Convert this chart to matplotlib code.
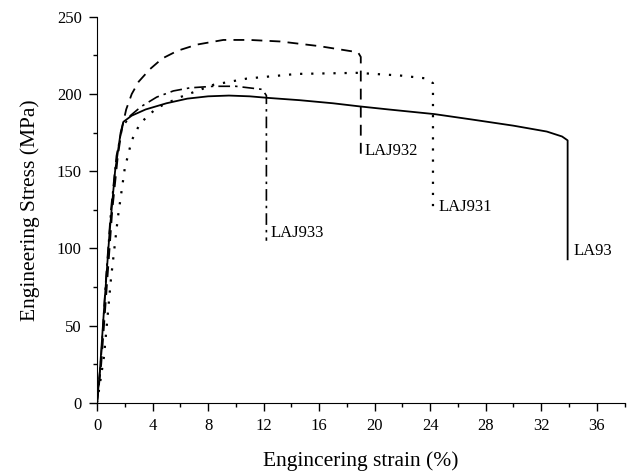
import matplotlib
matplotlib.use('Agg')
import matplotlib.pyplot as plt
from matplotlib.ticker import MultipleLocator

plt.rcParams['font.family'] = ['Liberation Serif', 'DejaVu Serif']

# LA93 (solid)
la93_x = [0, 0.2, 0.5, 0.9, 1.3, 1.7, 1.9, 2.5, 3.5, 5.0, 6.5, 8.0, 9.5, 11.0, 12.3, 14.6,
          17.0, 18.9, 21.0, 24.3, 27.0, 30.0, 32.4, 33.5, 33.9, 33.9]
la93_y = [0, 20, 60, 110, 150, 175, 182, 186, 190, 194, 197, 198.5, 199, 198.5, 197.5, 196,
          194, 192, 190, 187, 183.5, 179.5, 175.7, 172.5, 170, 93]

# LAJ932 (dashed)
laj932_x = [0, 0.3, 0.7, 1.1, 1.5, 1.8, 2.1, 2.5, 3.0, 3.8, 4.7, 5.8, 7.2, 9.1, 11.0, 13.2,
            16.0, 18.8, 19.0, 19.0]
laj932_y = [0, 25, 75, 125, 160, 178, 190, 200, 208, 216, 223, 228, 232, 235, 235, 234,
            231, 227, 224, 160]

# LAJ931 (dotted)
laj931_x = [0, 0.5, 1.0, 1.5, 2.0, 2.5, 3.1, 4.3, 6.0, 8.4, 10.8, 14.4, 18.7, 21.8, 23.8,
            24.2, 24.2]
laj931_y = [0, 30, 80, 120, 152, 170, 181, 191, 198, 206, 210, 213, 213.7, 212, 210,
            207, 122]

# LAJ933 (dash-dot)
laj933_x = [0, 0.3, 0.6, 1.0, 1.4, 1.8, 2.4, 3.2, 4.3, 5.5, 6.7, 8.4, 10.0, 11.9, 12.2, 12.2]
laj933_y = [0, 30, 75, 125, 160, 178, 186, 192, 198, 202, 204, 205, 205, 203, 199, 105]

labels = ['LA93', 'LAJ932', 'LAJ931', 'LAJ933']
label_pos = [(34.3, 93), (19.3, 158), (24.6, 122), (12.5, 105)]

fig = plt.figure(figsize=(6.28, 4.71), dpi=100)
ax = fig.add_axes([0.1545, 0.1444, 0.84, 0.82])

ax.plot(la93_x, la93_y, color='black', lw=1.3, linestyle='-')
ax.plot(laj932_x, laj932_y, color='black', lw=1.3, linestyle=(0, (6, 4)))
ax.plot(laj931_x, laj931_y, color='black', lw=1.6, linestyle=(0, (1, 4)))
ax.plot(laj933_x, laj933_y, color='black', lw=1.2, linestyle=(0, (7, 3, 1.5, 3)))

for lab, (lx, ly) in zip(labels, label_pos):
    ax.text(lx, ly, lab, fontsize=12, va='bottom', ha='left')

ax.set_xlim(0, 38)
ax.set_ylim(0, 250)
ax.xaxis.set_major_locator(MultipleLocator(4))
ax.xaxis.set_minor_locator(MultipleLocator(2))
ax.yaxis.set_major_locator(MultipleLocator(50))
ax.yaxis.set_minor_locator(MultipleLocator(25))
ax.spines['top'].set_visible(False)
ax.spines['right'].set_visible(False)
ax.tick_params(which='major', direction='out', length=6, width=1, labelsize=12, pad=5)
ax.tick_params(which='minor', direction='out', length=3, width=1)

ax.set_xlabel('Engincering strain (%)', fontsize=15.5, labelpad=12)
ax.set_ylabel('Engineering Stress (MPa)', fontsize=15.5, labelpad=12)

fig.savefig('out.png', dpi=100)
